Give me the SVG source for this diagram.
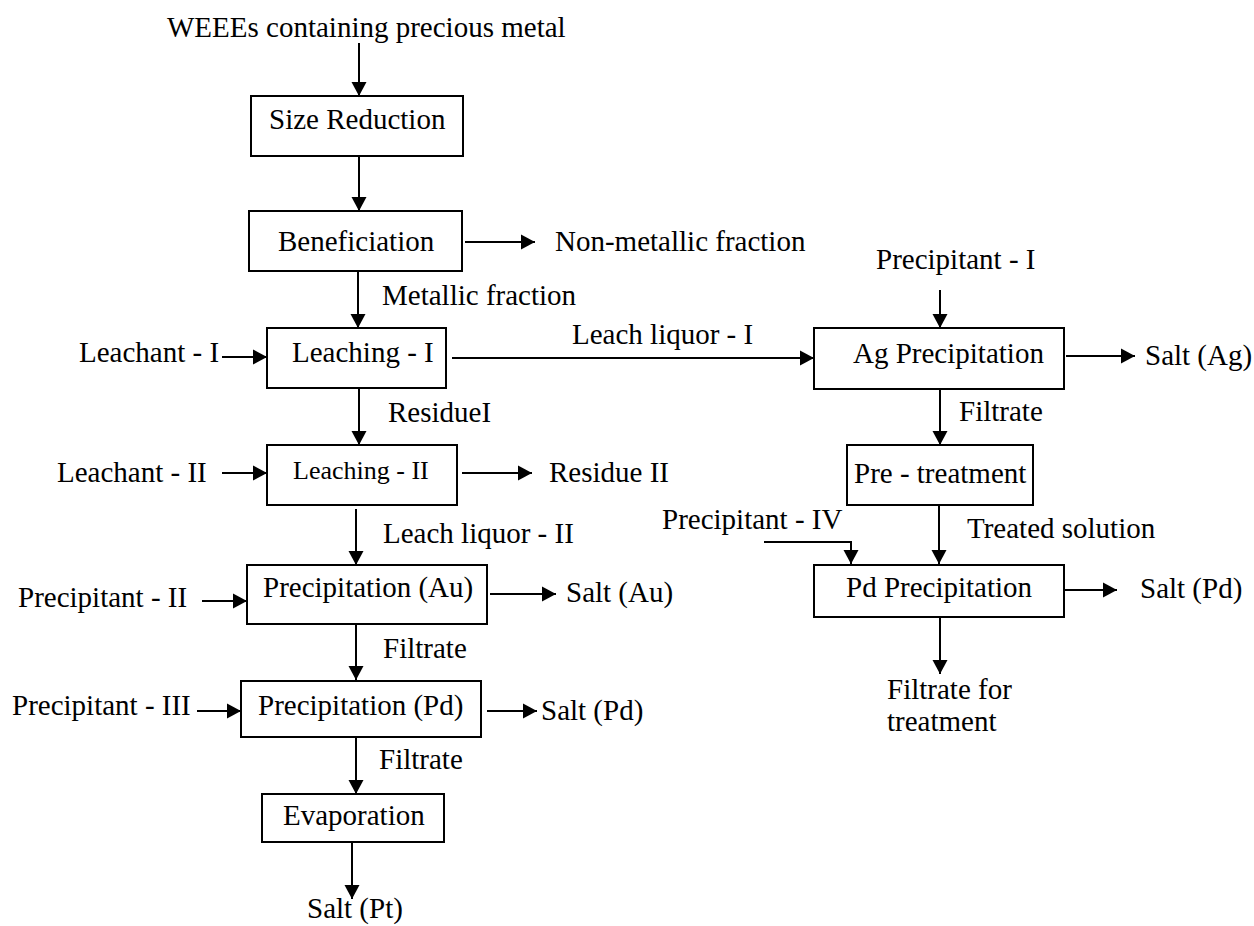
<svg xmlns="http://www.w3.org/2000/svg" width="1254" height="926" viewBox="0 0 1254 926" font-family="'Liberation Serif','Times New Roman',serif">
<style>
text{font-family:"Liberation Serif","Times New Roman",serif;font-size:29px;fill:#000}
.box{fill:#fff;stroke:#000;stroke-width:2}
.ln{fill:none;stroke:#000;stroke-width:2}
</style>
<defs>
<marker id="ah" markerUnits="userSpaceOnUse" markerWidth="14" markerHeight="16" refX="14" refY="8" orient="auto">
<path d="M0,0.5 L14,8 L0,15.5 z" fill="#000"/>
</marker>
</defs>
<rect width="1254" height="926" fill="#fff"/>
<g id="connectors">
<line class="ln" x1="359" y1="43" x2="359" y2="96" marker-end="url(#ah)"/>
<line class="ln" x1="359" y1="156" x2="359" y2="211" marker-end="url(#ah)"/>
<line class="ln" x1="465" y1="242" x2="535" y2="242" marker-end="url(#ah)"/>
<line class="ln" x1="358" y1="271" x2="358" y2="328" marker-end="url(#ah)"/>
<line class="ln" x1="222" y1="357" x2="267" y2="357" marker-end="url(#ah)"/>
<line class="ln" x1="452" y1="358" x2="814" y2="358" marker-end="url(#ah)"/>
<line class="ln" x1="359" y1="388" x2="359" y2="445" marker-end="url(#ah)"/>
<line class="ln" x1="222" y1="473" x2="267" y2="473" marker-end="url(#ah)"/>
<line class="ln" x1="462" y1="473" x2="532" y2="473" marker-end="url(#ah)"/>
<line class="ln" x1="356" y1="509" x2="356" y2="565" marker-end="url(#ah)"/>
<line class="ln" x1="202" y1="601" x2="247" y2="601" marker-end="url(#ah)"/>
<line class="ln" x1="490" y1="594" x2="556" y2="594" marker-end="url(#ah)"/>
<line class="ln" x1="356" y1="624" x2="356" y2="680" marker-end="url(#ah)"/>
<line class="ln" x1="197" y1="711" x2="241" y2="711" marker-end="url(#ah)"/>
<line class="ln" x1="487" y1="711" x2="537" y2="711" marker-end="url(#ah)"/>
<line class="ln" x1="356" y1="737" x2="356" y2="794" marker-end="url(#ah)"/>
<line class="ln" x1="352" y1="842" x2="352" y2="899" marker-end="url(#ah)"/>
<line class="ln" x1="940" y1="290" x2="940" y2="328" marker-end="url(#ah)"/>
<line class="ln" x1="1066" y1="356" x2="1135" y2="356" marker-end="url(#ah)"/>
<line class="ln" x1="940" y1="389" x2="940" y2="445" marker-end="url(#ah)"/>
<line class="ln" x1="939" y1="505" x2="939" y2="564" marker-end="url(#ah)"/>
<polyline class="ln" points="764,542 851,542 851,564" marker-end="url(#ah)"/>
<line class="ln" x1="1065" y1="590" x2="1117" y2="590" marker-end="url(#ah)"/>
<line class="ln" x1="940" y1="617" x2="940" y2="674" marker-end="url(#ah)"/>
</g>
<g id="n-size"><rect class="box" x="251" y="96" width="212" height="60"/><text x="269" y="129">Size Reduction</text></g>
<g id="n-benef"><rect class="box" x="249" y="211" width="213" height="60"/><text x="278" y="251">Beneficiation</text></g>
<g id="n-leach1"><rect class="box" x="267" y="328" width="179" height="60"/><text x="292" y="362">Leaching - I</text></g>
<g id="n-leach2"><rect class="box" x="267" y="445" width="190" height="60"/><text x="293" y="479" style="font-size:26px">Leaching - II</text></g>
<g id="n-precau"><rect class="box" x="247" y="565" width="240" height="59"/><text x="263" y="597">Precipitation (Au)</text></g>
<g id="n-precpd"><rect class="box" x="241" y="681" width="240" height="56"/><text x="258" y="715">Precipitation (Pd)</text></g>
<g id="n-evap"><rect class="box" x="262" y="794" width="182" height="48"/><text x="283" y="825">Evaporation</text></g>
<g id="n-ag"><rect class="box" x="814" y="328" width="250" height="61"/><text x="853" y="363">Ag Precipitation</text></g>
<g id="n-pre"><rect class="box" x="847" y="445" width="186" height="60"/><text x="854" y="483">Pre - treatment</text></g>
<g id="n-pd"><rect class="box" x="814" y="565" width="250" height="52"/><text x="846" y="597">Pd Precipitation</text></g>
<g id="labels">
<text x="167" y="37">WEEEs containing precious metal</text>
<text x="555" y="251">Non-metallic fraction</text>
<text x="382" y="305">Metallic fraction</text>
<text x="79" y="362">Leachant - I</text>
<text x="572" y="344">Leach liquor - I</text>
<text x="876" y="269">Precipitant - I</text>
<text x="1145" y="365">Salt (Ag)</text>
<text x="388" y="422">ResidueI</text>
<text x="959" y="421">Filtrate</text>
<text x="57" y="482">Leachant - II</text>
<text x="549" y="482">Residue II</text>
<text x="383" y="543">Leach liquor - II</text>
<text x="662" y="529">Precipitant - IV</text>
<text x="967" y="538">Treated solution</text>
<text x="18" y="607">Precipitant - II</text>
<text x="566" y="602">Salt (Au)</text>
<text x="1140" y="598">Salt (Pd)</text>
<text x="383" y="658">Filtrate</text>
<text x="887" y="699">Filtrate for</text>
<text x="887" y="731">treatment</text>
<text x="12" y="715">Precipitant - III</text>
<text x="541" y="720">Salt (Pd)</text>
<text x="379" y="769">Filtrate</text>
<text x="307" y="918">Salt (Pt)</text>
</g>
</svg>
